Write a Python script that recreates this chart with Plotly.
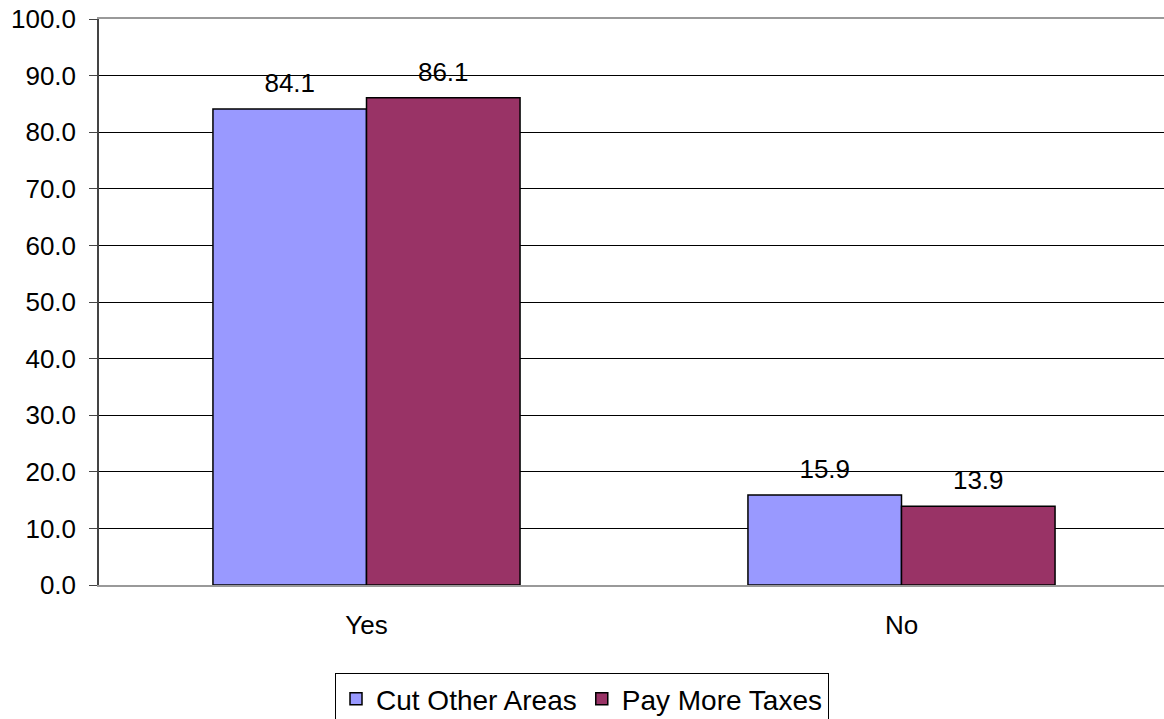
import plotly.graph_objects as go

categories = ["Yes", "No"]
cut_other_areas = [84.1, 15.9]
pay_more_taxes = [86.1, 13.9]
series_names = ["Cut Other Areas", "Pay More Taxes"]
series_colors = ["#9999FF", "#993366"]
y_ticks = [0, 10, 20, 30, 40, 50, 60, 70, 80, 90, 100]
y_tick_text = [f"{v:.1f}" for v in y_ticks]

FONT = "Liberation Sans, Arial, sans-serif"
FS = 26
xs = list(range(len(categories)))

fig = go.Figure()
for name, vals, color in zip(series_names, [cut_other_areas, pay_more_taxes], series_colors):
    fig.add_trace(go.Bar(
        x=xs, y=vals, name=name,
        marker=dict(color=color, line=dict(color="black", width=1.5)),
    ))
for name, vals in zip(series_names, [cut_other_areas, pay_more_taxes]):
    fig.add_trace(go.Scatter(
        x=xs, y=vals, name=name + " labels", showlegend=False,
        mode="markers+text", marker=dict(size=15, color="rgba(0,0,0,0)"),
        text=[f"{v:.1f}" for v in vals], textposition="top center",
        textfont=dict(size=FS, color="black", family=FONT),
        cliponaxis=False, hoverinfo="skip",
    ))

W, H = 1164, 719
xr = [-0.5, -0.5 + 1065 / 535]
fig.update_layout(
    width=W, height=H,
    margin=dict(l=99, r=0, t=19, b=134),
    paper_bgcolor="white", plot_bgcolor="white",
    barmode="group", bargap=0.426, bargroupgap=0,
    scattermode="group", scattergap=0.426,
    font=dict(family=FONT, size=FS, color="black"),
    xaxis=dict(range=xr, tickmode="array", tickvals=xs, ticktext=categories,
               ticks="", showgrid=False, zeroline=False,
               showline=True, mirror=True, linecolor="#999999", linewidth=2,
               ticklabelstandoff=16, tickfont=dict(size=FS), automargin=False),
    xaxis2=dict(range=xr, overlaying="x", side="bottom", anchor="y",
                tickmode="array", tickvals=[-0.5, 0.5, 1.5],
                ticks="outside", ticklen=8, tickcolor="#555555", tickwidth=1.5,
                showticklabels=False, showgrid=False, zeroline=False,
                showline=True, linecolor="#333333", linewidth=1, automargin=False),
    yaxis=dict(range=[0, 100], tickmode="array", tickvals=y_ticks, ticktext=y_tick_text,
               ticks="outside", ticklen=8, tickcolor="#444444",
               showline=True, linecolor="#444444", linewidth=1.5,
               gridcolor="black", gridwidth=1, zeroline=False,
               ticklabelstandoff=8, ticklabeloverflow="allow",
               tickfont=dict(size=FS), automargin=False),
    legend=dict(orientation="h", xref="container", yref="container",
                x=0.5, xanchor="center", y=1 - 673 / H, yanchor="top",
                bordercolor="black", borderwidth=1, bgcolor="white",
                font=dict(size=28), itemwidth=30, tracegroupgap=0),
    showlegend=True,
)
fig.write_html("out.html", config={"displayModeBar": False},
               post_script="document.body.style.margin='0';document.body.style.overflow='hidden';")
